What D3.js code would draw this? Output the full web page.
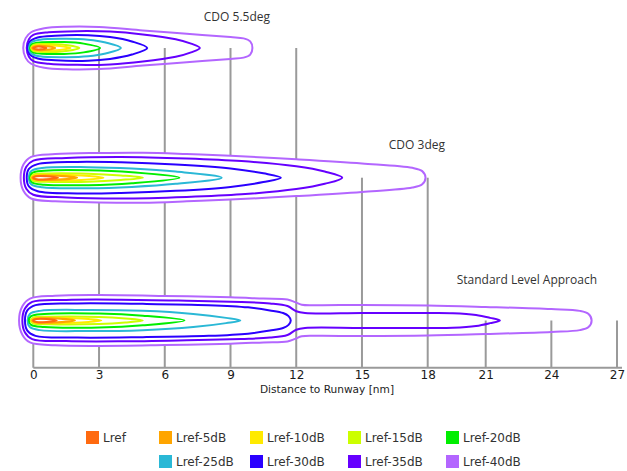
<!DOCTYPE html>
<html>
<head>
<meta charset="utf-8">
<script src="https://cdn.jsdelivr.net/npm/d3@7"></script>
<style>
  body { margin: 0; background: #fff; }
  .guide { stroke: #9a9a9a; stroke-width: 2; }
  .contour { fill: none; stroke-width: 2; }
  .axis path { stroke: #9a9a9a; stroke-width: 2; }
  .axis text { font-family: "DejaVu Sans", sans-serif; font-size: 12px; fill: #1a1a1a; }
  .title { font-family: "Open Sans", sans-serif; font-size: 12px; fill: #333; }
  .legend text { font-family: "DejaVu Sans", sans-serif; font-size: 12px; fill: #333; }
</style>
</head>
<body>
<div id="chart"></div>
<script>
// noise level classes, innermost first
var levels = ['Lref', 'Lref-5dB', 'Lref-10dB', 'Lref-15dB', 'Lref-20dB',
  'Lref-25dB', 'Lref-30dB', 'Lref-35dB', 'Lref-40dB'];
var levelColors = ['#ff6a10', '#ffa500', '#ffea00', '#ccff00', '#00ee00',
  '#2ab8d6', '#2a00ff', '#6600ff', '#b366ff'];

var approaches = ['CDO 5.5deg', 'CDO 3deg', 'Standard Level Approach'];

var distTicks = [0, 3, 6, 9, 12, 15, 18, 21, 24, 27];
// which approach each marker post starts at
var tickStartRow = [0, 0, 0, 0, 0, 1, 1, 2, 2, 2];

// contour outlines: [distance nm, half width nm], per level (innermost first)
var cdo55Contours = [
  [[0, 0], [0.15, 0.06], [0.35, 0.06], [0.6, 0]],
  [[-0.05, 0], [0.1, 0.08], [0.5, 0.09], [1.0, 0]],
  [[-0.08, 0], [0.05, 0.1], [0.6, 0.12], [1.2, 0.09], [1.7, 0]],
  [[-0.1, 0], [0, 0.13], [0.5, 0.18], [1.3, 0.16], [2.1, 0]],
  [[-0.15, 0], [-0.05, 0.18], [0.4, 0.26], [1.4, 0.27], [2.3, 0.2], [3.05, 0]],
  [[-0.2, 0], [-0.1, 0.25], [0.3, 0.38], [1.5, 0.42], [2.5, 0.38], [3.3, 0.25], [4.0, 0]],
  [[-0.25, 0], [-0.15, 0.3], [0.2, 0.48], [1, 0.56], [2.5, 0.58], [3.5, 0.5], [4.5, 0.3], [5.2, 0]],
  [[-0.3, 0], [-0.2, 0.4], [0, 0.6], [0.7, 0.72], [2, 0.77], [3.5, 0.75], [5, 0.62], [6.5, 0.4], [7.2, 0.2], [7.6, 0]],
  [[-0.46, 0], [-0.35, 0.45], [-0.1, 0.72], [0.5, 0.9], [1.5, 0.97], [3, 0.96], [5, 0.8], [7, 0.65], [9, 0.5], [9.6, 0.44], [9.9, 0.3], [10, 0]]
];

var cdo3Contours = [
  [[0, 0], [0.15, 0.07], [0.6, 0.07], [1.13, 0]],
  [[-0.05, 0], [0.1, 0.08], [0.8, 0.1], [2.0, 0]],
  [[-0.08, 0], [0.05, 0.1], [0.8, 0.13], [2.2, 0.1], [3.2, 0]],
  [[-0.1, 0], [0, 0.14], [0.6, 0.19], [2.5, 0.18], [4, 0.1], [5.0, 0]],
  [[-0.15, 0], [-0.05, 0.22], [0.5, 0.32], [2.5, 0.34], [4.5, 0.25], [6.67, 0]],
  [[-0.2, 0], [-0.1, 0.3], [0.4, 0.44], [2.5, 0.48], [4.5, 0.42], [6.5, 0.28], [8.6, 0]],
  [[-0.3, 0], [-0.2, 0.4], [0.2, 0.62], [2, 0.72], [4, 0.7], [6.5, 0.6], [9, 0.42], [10.5, 0.2], [11.3, 0]],
  [[-0.43, 0], [-0.32, 0.5], [0, 0.78], [1.5, 0.9], [4, 0.95], [7, 0.88], [9.5, 0.76], [12, 0.52], [13.3, 0.28], [14.1, 0]],
  [[-0.58, 0], [-0.45, 0.6], [-0.1, 0.95], [1, 1.08], [3, 1.13], [5, 1.14], [7, 1.08], [9, 1.0], [12, 0.84], [15, 0.65], [17.3, 0.45], [17.75, 0.3], [17.9, 0]]
];

var levelContours = [
  [[0, 0], [0.15, 0.07], [0.6, 0.07], [1.07, 0]],
  [[-0.05, 0], [0.1, 0.08], [0.8, 0.1], [1.9, 0]],
  [[-0.08, 0], [0.05, 0.1], [0.8, 0.12], [2.2, 0.09], [3.1, 0]],
  [[-0.12, 0], [0, 0.13], [0.7, 0.17], [3, 0.16], [4.2, 0.09], [5.0, 0]],
  [[-0.2, 0], [-0.1, 0.2], [0.5, 0.3], [3, 0.32], [5, 0.22], [6.9, 0]],
  [[-0.26, 0], [-0.16, 0.3], [0.3, 0.44], [2.5, 0.48], [5, 0.44], [7.3, 0.3], [8.8, 0.12], [9.45, 0]],
  [[-0.38, 0], [-0.28, 0.45], [0.1, 0.7], [2, 0.78], [5, 0.76], [8, 0.7], [9.8, 0.6], [10.8, 0.46], [11.4, 0.34], [11.65, 0.2], [11.75, 0]],
  [[-0.5, 0], [-0.38, 0.55], [-0.05, 0.85], [1.5, 0.94], [4, 0.95], [7, 0.9], [9.5, 0.84], [10.8, 0.78], [11.6, 0.66], [12.0, 0.42], [12.4, 0.34], [15, 0.34], [18, 0.34], [19.3, 0.33], [20.5, 0.25], [21.2, 0.12], [21.65, 0]],
  [[-0.65, 0], [-0.5, 0.65], [-0.15, 1.0], [1, 1.13], [3, 1.16], [6, 1.12], [9, 1.06], [10.5, 1.0], [11.6, 0.96], [11.95, 0.84], [12.25, 0.72], [13, 0.7], [15, 0.71], [18, 0.69], [21, 0.62], [24, 0.52], [25.3, 0.44], [25.7, 0.3], [25.84, 0]]
];

(function () {
  'use strict';

  var W = 627;
  var H = 471;
  var axisY = 367.7;
  var rowY = [48, 177.7, 320.5];
  var titleX = [270, 445, 597];
  var titleY = [21, 149, 284];

  var svg = d3.select('#chart').append('svg')
    .attr('width', W).attr('height', H);

  // the axis is stretched unevenly in the source, so polylinear
  var x = d3.scaleLinear().domain([0, 18, 21, 27]).range([33.3, 427.7, 485.7, 617]);
  var w = d3.scaleLinear().domain([0, 1]).range([0, 21.9]);

  var lineGen = d3.line().curve(d3.curveCatmullRomClosed.alpha(0.5));

  function outline(profile, cy) {
    var up = profile.map(function (p) { return [x(p[0]), cy - w(p[1])]; });
    var down = profile.slice(1, -1).reverse().map(function (p) {
      return [x(p[0]), cy + w(p[1])];
    });
    return lineGen(up.concat(down));
  }

  var allContours = [cdo55Contours, cdo3Contours, levelContours];
  var posts = distTicks.map(function (d, i) { return { d: d, row: tickStartRow[i] }; });

  function drawPosts(rows) {
    svg.append('g').selectAll('line')
      .data(posts.filter(function (p) { return rows.indexOf(p.row) >= 0; }))
      .enter().append('line')
      .attr('class', 'guide')
      .attr('x1', function (p) { return x(p.d); })
      .attr('x2', function (p) { return x(p.d); })
      .attr('y1', function (p) { return rowY[p.row]; })
      .attr('y2', axisY);
  }

  drawPosts([0]);

  // white masks so the long posts disappear inside the lower footprints
  svg.append('clipPath').attr('id', 'leftOf12')
    .append('rect').attr('x', 0).attr('y', 0)
    .attr('width', x(12) - 1.5).attr('height', H);

  svg.append('path')
    .attr('d', outline(cdo3Contours[8], rowY[1]))
    .attr('fill', '#fff');
  svg.append('path')
    .attr('d', outline(levelContours[8], rowY[2]))
    .attr('fill', '#fff')
    .attr('clip-path', 'url(#leftOf12)');

  drawPosts([1, 2]);

  allContours.forEach(function (set, row) {
    var g = svg.append('g');
    for (var i = set.length - 1; i >= 0; i--) {
      g.append('path')
        .attr('class', 'contour')
        .attr('stroke', levelColors[i])
        .attr('d', outline(set[i], rowY[row]));
    }
    svg.append('text')
      .attr('class', 'title')
      .attr('x', titleX[row])
      .attr('y', titleY[row])
      .attr('text-anchor', 'end')
      .text(approaches[row]);
  });

  var axis = svg.append('g')
    .attr('class', 'axis')
    .attr('transform', 'translate(0,' + axisY + ')')
    .call(d3.axisBottom(x).tickValues(distTicks).tickSize(0).tickPadding(3));
  axis.select('.domain').attr('d', 'M' + x(0) + ',0H622');

  svg.append('text')
    .attr('x', 327).attr('y', 393)
    .attr('text-anchor', 'middle')
    .style('font-family', '"DejaVu Sans", sans-serif')
    .style('font-size', '10.6px')
    .style('fill', '#222')
    .text('Distance to Runway [nm]');

  // legend: first row holds Lref..-20dB, second row -25dB..-40dB
  var colX = [86, 159, 250, 348, 446];
  var legendPos = levels.map(function (l, i) {
    return i < 5 ? { col: i, row: 0 } : { col: i - 4, row: 1 };
  });

  var item = svg.append('g').attr('class', 'legend')
    .selectAll('g').data(levels).enter().append('g')
    .attr('transform', function (d, i) {
      return 'translate(' + colX[legendPos[i].col] + ',' + (431 + legendPos[i].row * 24) + ')';
    });
  item.append('rect')
    .attr('width', 13).attr('height', 13)
    .attr('fill', function (d, i) { return levelColors[i]; });
  item.append('text')
    .attr('x', 17).attr('y', 11)
    .text(function (d) { return d; });
})();
</script>
</body>
</html>
